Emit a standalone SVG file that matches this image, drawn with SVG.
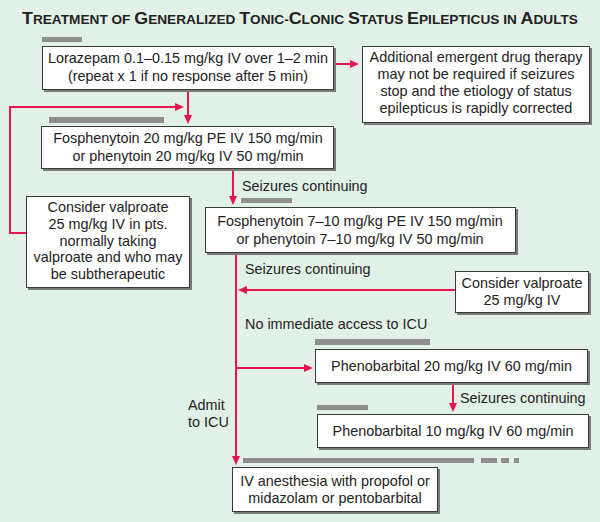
<svg xmlns="http://www.w3.org/2000/svg" width="600" height="522" viewBox="0 0 600 522">
<defs>
<style>
.bg{fill:#e2f1e7}
.sh{fill:#7a7a7a}
.bx{fill:#ffffff;stroke:#3a3a3a;stroke-width:1}
.t{font-family:"Liberation Sans",Arial,sans-serif;font-size:14.4px;fill:#222;text-anchor:middle}
.l{font-family:"Liberation Sans",Arial,sans-serif;font-size:14.4px;fill:#222}
.bar{fill:#8e8e8e}
.c{fill:none;stroke:#e8144e;stroke-width:2}
.ti{font-family:"Liberation Sans",Arial,sans-serif;font-weight:bold;fill:#222}
</style>
<marker id="ah" viewBox="0 0 9 8" refX="6" refY="4" markerWidth="9" markerHeight="8" markerUnits="userSpaceOnUse" orient="auto">
<path d="M0,0 L9,4 L0,8 z" fill="#e8144e"/>
</marker>
</defs>
<rect class="bg" x="0" y="0" width="600" height="522"/>
<text class="ti" x="22" y="24" textLength="556" lengthAdjust="spacingAndGlyphs"><tspan font-size="17">T</tspan><tspan font-size="13">REATMENT OF </tspan><tspan font-size="17">G</tspan><tspan font-size="13">ENERALIZED </tspan><tspan font-size="17">T</tspan><tspan font-size="13">ONIC-</tspan><tspan font-size="17">C</tspan><tspan font-size="13">LONIC </tspan><tspan font-size="17">S</tspan><tspan font-size="13">TATUS </tspan><tspan font-size="17">E</tspan><tspan font-size="13">PILEPTICUS IN </tspan><tspan font-size="17">A</tspan><tspan font-size="13">DULTS</tspan></text>

<g id="bars">
<rect class="bar" x="42" y="37" width="40" height="5"/>
<rect class="bar" x="49" y="117" width="115" height="6"/>
<rect class="bar" x="241" y="198" width="51" height="5"/>
<rect class="bar" x="315" y="339" width="115" height="6"/>
<rect class="bar" x="317" y="405" width="51" height="5"/>
<rect class="bar" x="243" y="458" width="231" height="5"/>
<rect class="bar" x="481" y="458" width="16" height="5"/>
<rect class="bar" x="501" y="458" width="8" height="5"/>
<rect class="bar" x="514" y="458" width="5" height="5"/>
</g>

<g id="connectors">
<line class="c" x1="334" y1="64" x2="356" y2="64" marker-end="url(#ah)"/>
<line class="c" x1="188" y1="90" x2="188" y2="121" marker-end="url(#ah)"/>
<polyline class="c" points="26,233 10,233 10,107 181,107" marker-end="url(#ah)"/>
<line class="c" x1="233" y1="169" x2="233" y2="202" marker-end="url(#ah)"/>
<line class="c" x1="236" y1="253" x2="236" y2="462" marker-end="url(#ah)"/>
<line class="c" x1="455" y1="290" x2="241" y2="290" marker-end="url(#ah)"/>
<line class="c" x1="236" y1="368" x2="310" y2="368" marker-end="url(#ah)"/>
<line class="c" x1="453" y1="383" x2="453" y2="409" marker-end="url(#ah)"/>
</g>

<g id="labels">
<text class="l" x="242" y="191">Seizures continuing</text>
<text class="l" x="245" y="274">Seizures continuing</text>
<text class="l" x="245" y="329">No immediate access to ICU</text>
<text class="l" x="460" y="403">Seizures continuing</text>
<text class="l" x="188" y="410">Admit</text>
<text class="l" x="188" y="427">to ICU</text>
</g>

<g id="lorazepam">
<rect class="sh" x="44" y="48" width="292" height="44"/>
<rect class="bx" x="42.5" y="46.5" width="291" height="43"/>
<text class="t" x="188" y="63">Lorazepam 0.1–0.15 mg/kg IV over 1–2 min</text>
<text class="t" x="188" y="81">(repeat x 1 if no response after 5 min)</text>
</g>

<g id="additional">
<rect class="sh" x="364" y="48" width="228" height="77"/>
<rect class="bx" x="362.5" y="46.5" width="227" height="76"/>
<text class="t" x="476" y="62">Additional emergent drug therapy</text>
<text class="t" x="476" y="79">may not be required if seizures</text>
<text class="t" x="476" y="96">stop and the etiology of status</text>
<text class="t" x="476" y="113">epilepticus is rapidly corrected</text>
</g>

<g id="fosphenytoin1">
<rect class="sh" x="43" y="128" width="293" height="43"/>
<rect class="bx" x="41.5" y="126.5" width="292" height="42"/>
<text class="t" x="188" y="143">Fosphenytoin 20 mg/kg PE IV 150 mg/min</text>
<text class="t" x="188" y="161">or phenytoin 20 mg/kg IV 50 mg/min</text>
</g>

<g id="valproate1">
<rect class="sh" x="28" y="198" width="164" height="92"/>
<rect class="bx" x="26.5" y="196.5" width="163" height="91"/>
<text class="t" x="108" y="212">Consider valproate</text>
<text class="t" x="108" y="229">25 mg/kg IV in pts.</text>
<text class="t" x="108" y="246">normally taking</text>
<text class="t" x="108" y="262">valproate and who may</text>
<text class="t" x="108" y="279">be subtherapeutic</text>
</g>

<g id="fosphenytoin2">
<rect class="sh" x="207" y="209" width="311" height="46"/>
<rect class="bx" x="205.5" y="207.5" width="310" height="45"/>
<text class="t" x="360" y="226">Fosphenytoin 7–10 mg/kg PE IV 150 mg/min</text>
<text class="t" x="360" y="244">or phenytoin 7–10 mg/kg IV 50 mg/min</text>
</g>

<g id="valproate2">
<rect class="sh" x="457" y="273" width="134" height="42"/>
<rect class="bx" x="455.5" y="271.5" width="133" height="41"/>
<text class="t" x="522" y="288">Consider valproate</text>
<text class="t" x="522" y="305">25 mg/kg IV</text>
</g>

<g id="phenobarbital1">
<rect class="sh" x="317" y="351" width="273" height="34"/>
<rect class="bx" x="315.5" y="349.5" width="272" height="33"/>
<text class="t" x="451.5" y="371">Phenobarbital 20 mg/kg IV 60 mg/min</text>
</g>

<g id="phenobarbital2">
<rect class="sh" x="319" y="416" width="272" height="34"/>
<rect class="bx" x="317.5" y="414.5" width="271" height="33"/>
<text class="t" x="453" y="436">Phenobarbital 10 mg/kg IV 60 mg/min</text>
</g>

<g id="anesthesia">
<rect class="sh" x="234" y="469" width="206" height="45"/>
<rect class="bx" x="232.5" y="467.5" width="205" height="44"/>
<text class="t" x="335" y="486">IV anesthesia with propofol or</text>
<text class="t" x="335" y="503">midazolam or pentobarbital</text>
</g>
</svg>
